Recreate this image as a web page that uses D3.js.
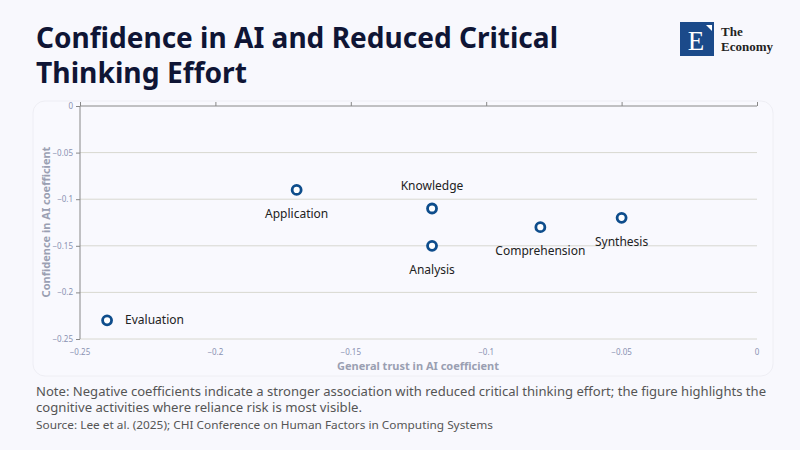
<!DOCTYPE html>
<html>
<head>
<meta charset="utf-8">
<script src="https://cdn.jsdelivr.net/npm/d3@7"></script>
<style>
  html, body { margin: 0; padding: 0; background: #f8f8fd; }
  svg { display: block; }
</style>
</head>
<body>
<svg id="chart" width="800" height="450"></svg>
<script>
// data
var activities = ["Evaluation", "Application", "Knowledge", "Analysis", "Comprehension", "Synthesis"];
var trustCoef = [-0.24, -0.17, -0.12, -0.12, -0.08, -0.05];
var confidenceCoef = [-0.23, -0.09, -0.11, -0.15, -0.13, -0.12];
var labelSide = ["right", "below", "above", "below", "below", "below"];
var xTicks = [-0.25, -0.2, -0.15, -0.1, -0.05, 0];
var yTicks = [0, -0.05, -0.1, -0.15, -0.2, -0.25];

var svg = d3.select("#chart");
var fontMain = "'Source Sans Pro','Noto Sans',sans-serif";

svg.append("rect").attr("width", 800).attr("height", 450).attr("fill", "#f8f8fd");

// title (squeezed a little so it spans like the narrower original face)
var titleLines = ["Confidence in AI and Reduced Critical", "Thinking Effort"];
var titleWidths = [522, 211];
svg.append("g").selectAll("text")
  .data(titleLines)
  .enter().append("text")
  .attr("x", 36)
  .attr("y", function (d, i) { return 48 + i * 35; })
  .attr("font-family", fontMain)
  .attr("font-weight", 700)
  .attr("font-size", 28.5)
  .attr("fill", "#0f1535")
  .attr("textLength", function (d, i) { return titleWidths[i]; })
  .attr("lengthAdjust", "spacingAndGlyphs")
  .text(function (d) { return d; });

// logo
var logo = svg.append("g").attr("transform", "translate(680,22)");
logo.append("rect").attr("width", 34).attr("height", 34).attr("fill", "#1b4a8a");
logo.append("path").attr("d", "M26,3 L32,3 L32,9 Z").attr("fill", "#fff");
logo.append("text").attr("x", 16).attr("y", 28).attr("text-anchor", "middle")
  .attr("font-family", "'Liberation Serif',serif").attr("font-size", 27).attr("fill", "#fff").text("E");
logo.append("text").attr("x", 41).attr("y", 14)
  .attr("font-family", "'Liberation Serif',serif").attr("font-size", 13).attr("font-weight", 700)
  .attr("fill", "#222").text("The");
logo.append("text").attr("x", 41).attr("y", 29)
  .attr("font-family", "'Liberation Serif',serif").attr("font-size", 13).attr("font-weight", 700)
  .attr("fill", "#222").text("Economy");

// card
svg.append("rect")
  .attr("x", 33).attr("y", 101).attr("width", 740).attr("height", 275)
  .attr("rx", 12)
  .attr("fill", "#f9f9fe").attr("stroke", "#eeeef4");

var x = d3.scaleLinear().domain([-0.25, 0]).range([80, 757]);
var y = d3.scaleLinear().domain([0, -0.25]).range([106, 339]);

// gridlines
svg.append("g").selectAll("line")
  .data(yTicks.filter(function (d) { return d !== 0; }))
  .enter().append("line")
  .attr("x1", x(-0.25)).attr("x2", x(0))
  .attr("y1", function (d) { return y(d); })
  .attr("y2", function (d) { return y(d); })
  .attr("stroke", "#d8d8d0").attr("stroke-width", 1);

// x axis line at y=0 with ticks upward
var xAxis = d3.axisTop(x).tickValues(xTicks).tickSize(4).tickFormat("");
var gx = svg.append("g").attr("transform", "translate(0," + y(0) + ")").call(xAxis);
gx.select(".domain").attr("stroke", "#888").attr("d", "M" + x(-0.25) + ",0H" + x(0));
gx.selectAll(".tick line").attr("stroke", "#888");

// x tick labels at the bottom
svg.append("g").selectAll("text")
  .data(xTicks)
  .enter().append("text")
  .attr("x", function (d) { return x(d); })
  .attr("y", 355)
  .attr("text-anchor", "middle")
  .attr("font-family", fontMain)
  .attr("font-size", 8)
  .attr("fill", "#8a92b2")
  .text(function (d) { return d3.format("")(d); });

// y axis
var yAxis = d3.axisLeft(y).tickValues(yTicks).tickSize(4).tickPadding(3)
  .tickFormat(function (d) { return d3.format("")(d); });
var gy = svg.append("g").attr("transform", "translate(" + x(-0.25) + ",0)").call(yAxis);
gy.select(".domain").attr("stroke", "#888").attr("d", "M0," + y(0) + "V" + y(-0.25));
gy.selectAll(".tick line").attr("stroke", "#888");
gy.selectAll(".tick text")
  .attr("font-family", fontMain).attr("font-size", 8).attr("fill", "#8a92b2");

// axis titles
svg.append("text")
  .attr("x", 418).attr("y", 370)
  .attr("text-anchor", "middle")
  .attr("font-family", fontMain).attr("font-weight", 700).attr("font-size", 11)
  .attr("fill", "#9a9fb2")
  .text("General trust in AI coefficient");
svg.append("text")
  .attr("transform", "translate(50,222) rotate(-90)")
  .attr("text-anchor", "middle")
  .attr("font-family", fontMain).attr("font-weight", 700).attr("font-size", 11)
  .attr("fill", "#9a9fb2")
  .text("Confidence in AI coefficient");

// points
var pts = activities.map(function (a, i) {
  return { name: a, x: trustCoef[i], y: confidenceCoef[i], side: labelSide[i] };
});
svg.append("g").selectAll("circle")
  .data(pts)
  .enter().append("circle")
  .attr("cx", function (d) { return x(d.x); })
  .attr("cy", function (d) { return y(d.y); })
  .attr("r", 4.5)
  .attr("fill", "#fff")
  .attr("stroke", "#0e4d8c")
  .attr("stroke-width", 2.8);

svg.append("g").selectAll("text")
  .data(pts)
  .enter().append("text")
  .attr("x", function (d) { return d.side === "right" ? x(d.x) + 18 : x(d.x); })
  .attr("y", function (d) {
    var cy = y(d.y);
    if (d.side === "right") return cy + 4;
    if (d.side === "above") return cy - 19;
    return cy + 28;
  })
  .attr("text-anchor", function (d) { return d.side === "right" ? "start" : "middle"; })
  .attr("font-family", fontMain)
  .attr("font-size", 12)
  .attr("fill", "#222")
  .text(function (d) { return d.name; });

// notes (condensed in the original, so fit them to the same widths)
var noteLines = [
  "Note: Negative coefficients indicate a stronger association with reduced critical thinking effort; the figure highlights the",
  "cognitive activities where reliance risk is most visible.",
  "Source: Lee et al. (2025); CHI Conference on Human Factors in Computing Systems"
];
var noteWidths = [730, 326, 457];
var noteY = [396, 412, 429];
var noteSize = [13, 13, 11.5];
svg.append("g").selectAll("text")
  .data(noteLines)
  .enter().append("text")
  .attr("x", 36)
  .attr("y", function (d, i) { return noteY[i]; })
  .attr("font-family", fontMain)
  .attr("font-size", function (d, i) { return noteSize[i]; })
  .attr("fill", "#555")
  .attr("textLength", function (d, i) { return noteWidths[i]; })
  .attr("lengthAdjust", "spacingAndGlyphs")
  .text(function (d) { return d; });
</script>
</body>
</html>
